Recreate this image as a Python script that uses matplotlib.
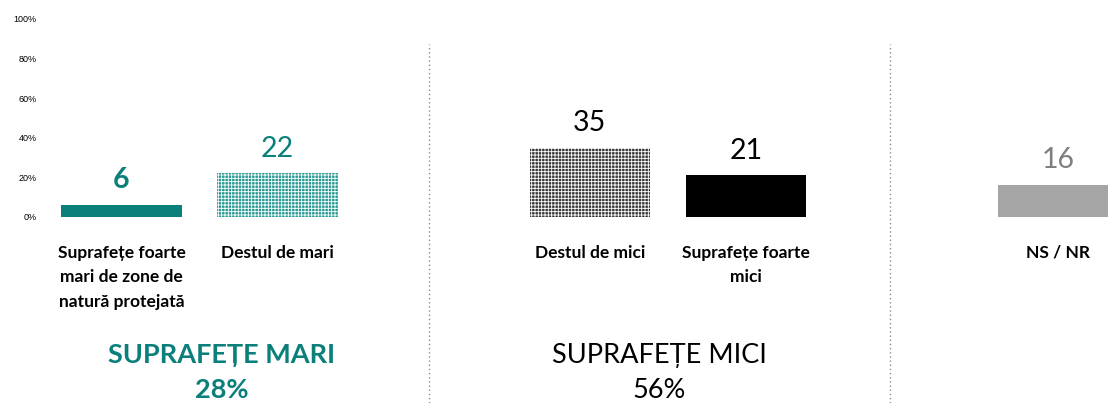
import matplotlib
matplotlib.use("Agg")
import matplotlib.pyplot as plt
from matplotlib.ticker import FuncFormatter

plt.rcParams['font.family'] = ['Lato', 'DejaVu Sans']
plt.rcParams['hatch.linewidth'] = 0.6

categories = ["Suprafețe foarte\nmari de zone de\nnatură protejată", "Destul de mari",
              "Destul de mici", "Suprafețe foarte\nmici", "NS / NR"]
values = [6, 22, 35, 21, 16]
positions = [0, 1, 3, 4, 6]
groups = ["SUPRAFEȚE MARI", "SUPRAFEȚE MICI"]
group_totals = ["28%", "56%"]
yticks = [0, 20, 40, 60, 80, 100]

TEAL = "#0b7f7a"
bar_faces = [TEAL, "#2a9b95", "#3a3a3a", "#000000", "#a5a5a5"]
bar_hatch = [None, "+++++", "+++++", None, None]
label_colors = [TEAL, TEAL, "#000000", "#000000", "#7f7f7f"]
label_weights = ["bold", "normal", "normal", "normal", "normal"]

fig = plt.figure(figsize=(11.08, 4.03), dpi=100)
ax = fig.add_axes([45/1108, (403-217)/403, 1 - 45/1108, (217-19)/403])

for p, v, fc, h, lc, lw in zip(positions, values, bar_faces, bar_hatch, label_colors, label_weights):
    ax.bar(p, v, width=0.77, color=fc, hatch=h,
           edgecolor="white" if h else fc, linewidth=0)
    ax.text(p, v + 6, str(v), ha="center", va="bottom", fontsize=20.5,
            color=lc, fontweight=lw)

ax.set_xlim(-0.49, 6.32)
ax.set_ylim(0, 100)
ax.set_yticks(yticks)
ax.yaxis.set_major_formatter(FuncFormatter(lambda v, _: f"{int(v)}%"))
ax.tick_params(axis="y", length=0, labelsize=6.5, pad=6)
for lab in ax.get_yticklabels():
    lab.set_family(['Liberation Sans', 'DejaVu Sans'])
ax.set_xticks([])
for s in ax.spines.values():
    s.set_visible(False)

# Category labels
for p, c in zip(positions, categories):
    ax.annotate(c, xy=(p, 0), xycoords="data", xytext=(0, -20),
                textcoords="offset points", ha="center", va="top",
                fontsize=12.5, fontweight="bold", linespacing=1.65)

# Group labels
fig.text(222/1108, 1 - 355/403, groups[0], ha="center", va="center",
         fontsize=19.5, fontweight="bold", color=TEAL)
fig.text(222/1108, 1 - 390/403, group_totals[0], ha="center", va="center",
         fontsize=19.5, fontweight="bold", color=TEAL)
fig.text(659/1108, 1 - 355/403, groups[1], ha="center", va="center",
         fontsize=19.5, color="black")
fig.text(659/1108, 1 - 390/403, group_totals[1], ha="center", va="center",
         fontsize=19.5, color="black")

# Dotted separators
for xpx in (429, 890):
    fig.add_artist(plt.Line2D([xpx/1108, xpx/1108], [0, 1 - 44/403],
                              transform=fig.transFigure, color="#8c8c8c",
                              linestyle=(0, (1, 2)), linewidth=1))

fig.savefig("out.png", dpi=100)
